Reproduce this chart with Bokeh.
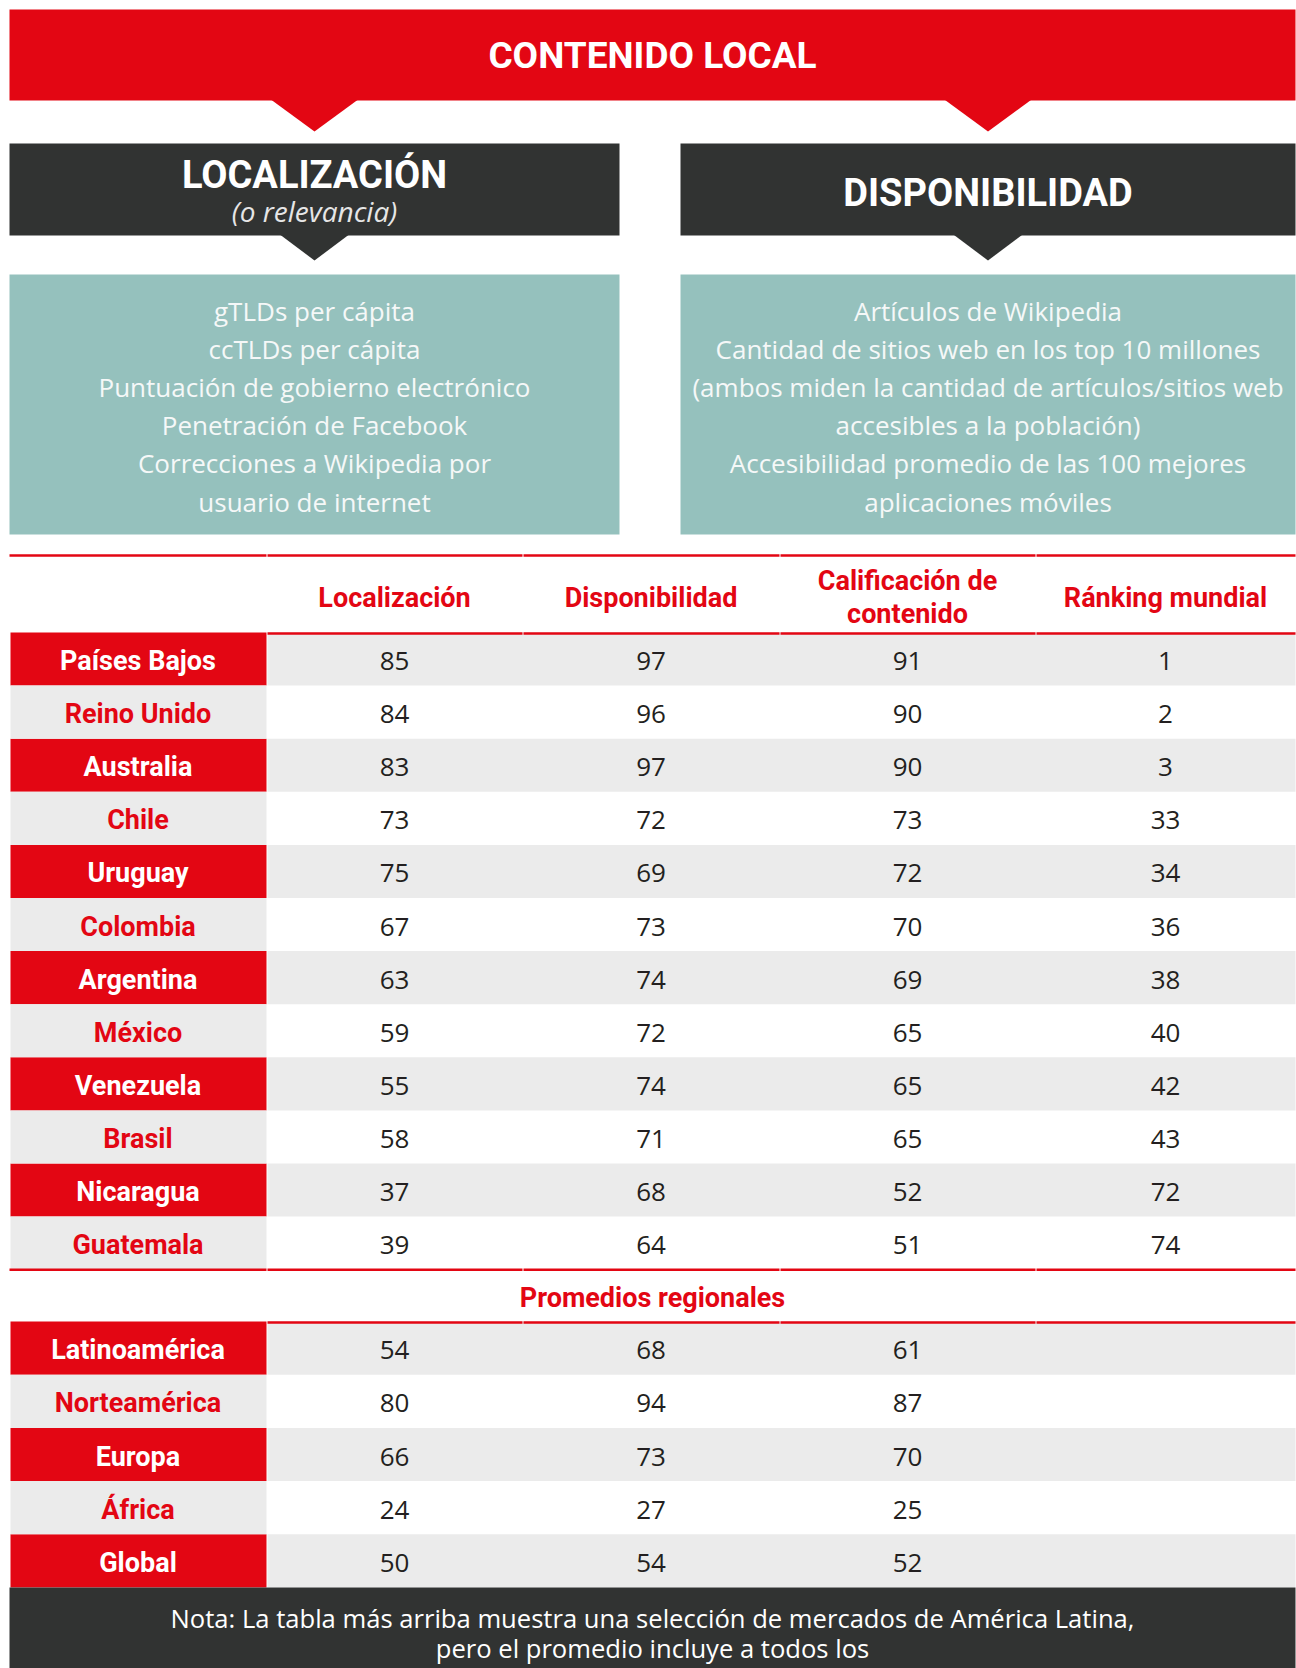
from bokeh.plotting import figure
from bokeh.models import Range1d
from bokeh.embed import file_html
from bokeh.resources import INLINE
from bokeh.core.properties import value

# ---------------- data ----------------
title = "CONTENIDO LOCAL"
left_head = "LOCALIZACIÓN"
left_sub = "(o relevancia)"
right_head = "DISPONIBILIDAD"
left_items = ["gTLDs per cápita", "ccTLDs per cápita", "Puntuación de gobierno electrónico",
              "Penetración de Facebook", "Correcciones a Wikipedia por", "usuario de internet"]
right_items = ["Artículos de Wikipedia", "Cantidad de sitios web en los top 10 millones",
               "(ambos miden la cantidad de artículos/sitios web", "accesibles a la población)",
               "Accesibilidad promedio de las 100 mejores", "aplicaciones móviles"]
col_headers = ["Localización", "Disponibilidad", "Calificación de\ncontenido", "Ránking mundial"]

countries = ["Países Bajos", "Reino Unido", "Australia", "Chile", "Uruguay", "Colombia",
             "Argentina", "México", "Venezuela", "Brasil", "Nicaragua", "Guatemala"]
localizacion = [85, 84, 83, 73, 75, 67, 63, 59, 55, 58, 37, 39]
disponibilidad = [97, 96, 97, 72, 69, 73, 74, 72, 74, 71, 68, 64]
calificacion = [91, 90, 90, 73, 72, 70, 69, 65, 65, 65, 52, 51]
ranking = [1, 2, 3, 33, 34, 36, 38, 40, 42, 43, 72, 74]

section_label = "Promedios regionales"
regions = ["Latinoamérica", "Norteamérica", "Europa", "África", "Global"]
reg_localizacion = [54, 80, 66, 24, 50]
reg_disponibilidad = [68, 94, 73, 27, 54]
reg_calificacion = [61, 87, 70, 25, 52]

footnote = ["Nota: La tabla más arriba muestra una selección de mercados de América Latina,",
            "pero el promedio incluye a todos los"]

# ---------------- styles ----------------
RED = "#e30613"
DARK = "#313332"
TEAL = "#95c1bd"
GRAY = "#ebebeb"
NUM = "#231f20"
BOLD_FONT = value("Roboto")
LIGHT_FONT = value("Open Sans")
BOLD_SIZE = "27px"

W, H = 1296, 1668
p = figure(width=W, height=H, output_backend="svg", toolbar_location=None,
           x_range=Range1d(0, 1296), y_range=Range1d(1668, 0), min_border=0)
p.axis.visible = False
p.grid.visible = False
p.outline_line_color = None
p.background_fill_color = "white"

X0, X1 = 9, 1295
# ---- top banner ----
p.quad(left=[X0], right=[X1], top=[9], bottom=[100], fill_color=RED, line_color=None)
LC, RC = 314, 987.5
for cx in (LC, RC):
    p.patch([cx - 43, cx + 43, cx], [99.5, 99.5, 131], fill_color=RED, line_color=None)
p.text(x=[(X0 + X1) / 2], y=[55], text=[title], text_font=BOLD_FONT, text_font_style="bold",
       text_font_size="37px", text_color="white", text_align="center", text_baseline="middle")

# ---- dark boxes ----
BOX_L = (9, 619)
BOX_R = (680, 1295)
for (l, r) in (BOX_L, BOX_R):
    p.quad(left=[l], right=[r], top=[143], bottom=[235], fill_color=DARK, line_color=None)
for cx in (LC, RC):
    p.patch([cx - 34, cx + 34, cx], [234.5, 234.5, 260], fill_color=DARK, line_color=None)
p.text(x=[LC], y=[174], text=[left_head], text_font=BOLD_FONT, text_font_style="bold",
       text_font_size="38px", text_color="white", text_align="center", text_baseline="middle")
p.text(x=[LC], y=[210], text=[left_sub], text_font=LIGHT_FONT, text_font_style="italic",
       text_font_size="28px", text_color="#e6e6e6", text_align="center", text_baseline="middle")
p.text(x=[RC], y=[192], text=[right_head], text_font=BOLD_FONT, text_font_style="bold",
       text_font_size="38px", text_color="white", text_align="center", text_baseline="middle")

# ---- teal boxes ----
for (l, r) in (BOX_L, BOX_R):
    p.quad(left=[l], right=[r], top=[274], bottom=[534], fill_color=TEAL, line_color=None)
line_ys = [310 + 38.2 * i for i in range(len(left_items))]
p.text(x=[LC] * len(left_items), y=line_ys, text=left_items, text_font=LIGHT_FONT,
       text_font_size="26px", text_color="#f5f8f8", text_align="center", text_baseline="middle")
p.text(x=[RC] * len(right_items), y=line_ys, text=right_items, text_font=LIGHT_FONT,
       text_font_size="26px", text_color="#f5f8f8", text_align="center", text_baseline="middle")

# ---- table ----
col_edges = [9, 266, 522, 779, 1035, 1295]
col_centers = [(col_edges[i] + col_edges[i + 1]) / 2 for i in range(5)]


def hline(y, include_label=True):
    start = 0 if include_label else 1
    ls = [col_edges[i] + (1 if i > 0 else 0) for i in range(start, 5)]
    rs = [col_edges[i + 1] for i in range(start, 5)]
    p.quad(left=ls, right=rs, top=[y - 1.2] * len(ls), bottom=[y + 1.2] * len(ls),
           fill_color=RED, line_color=None)


# header
hline(555)
hdr_x = col_centers[1:]
for x, h in zip(hdr_x, col_headers):
    lines = h.split("\n")
    if len(lines) == 1:
        ys = [597]
    else:
        ys = [580, 613]
    p.text(x=[x] * len(lines), y=ys, text=lines, text_font=BOLD_FONT, text_font_style="bold",
           text_font_size=BOLD_SIZE, text_color=RED, text_align="center", text_baseline="middle")


def table_block(y_start, row_h, labels, cols):
    n = len(labels)
    tops = [y_start + i * row_h for i in range(n)]
    bots = [t + row_h for t in tops]
    odd = [i for i in range(n) if i % 2 == 0]
    even = [i for i in range(n) if i % 2 == 1]
    # label cells
    p.quad(left=[col_edges[0] + 1] * len(odd), right=[col_edges[1]] * len(odd),
           top=[tops[i] for i in odd], bottom=[bots[i] for i in odd], fill_color=RED, line_color=None)
    p.quad(left=[col_edges[0] + 1] * len(even), right=[col_edges[1]] * len(even),
           top=[tops[i] for i in even], bottom=[bots[i] for i in even], fill_color=GRAY, line_color=None)
    # data cells (gray on odd rows)
    p.quad(left=[col_edges[1] + 1] * len(odd), right=[col_edges[5]] * len(odd),
           top=[tops[i] for i in odd], bottom=[bots[i] for i in odd], fill_color=GRAY, line_color=None)
    cy = [t + row_h / 2 + 2 for t in tops]
    p.text(x=[col_centers[0]] * len(odd), y=[cy[i] for i in odd], text=[labels[i] for i in odd],
           text_font=BOLD_FONT, text_font_style="bold", text_font_size=BOLD_SIZE, text_color="white",
           text_align="center", text_baseline="middle")
    p.text(x=[col_centers[0]] * len(even), y=[cy[i] for i in even], text=[labels[i] for i in even],
           text_font=BOLD_FONT, text_font_style="bold", text_font_size=BOLD_SIZE, text_color=RED,
           text_align="center", text_baseline="middle")
    for ci, vals in enumerate(cols):
        p.text(x=[col_centers[ci + 1]] * n, y=cy, text=[str(v) for v in vals],
               text_font=LIGHT_FONT, text_font_size="26px", text_color=NUM,
               text_align="center", text_baseline="middle")
    return bots[-1]


end1 = table_block(632, 53.1, countries, [localizacion, disponibilidad, calificacion, ranking])
hline(633, include_label=False)
hline(end1)
p.text(x=[(X0 + X1) / 2], y=[1297], text=[section_label], text_font=BOLD_FONT,
       text_font_style="bold", text_font_size=BOLD_SIZE, text_color=RED, text_align="center",
       text_baseline="middle")
end2 = table_block(1321, 53.2, regions, [reg_localizacion, reg_disponibilidad, reg_calificacion])
hline(1322, include_label=False)

# ---- footer ----
p.quad(left=[X0], right=[X1], top=[end2], bottom=[1700], fill_color=DARK, line_color=None)
p.text(x=[(X0 + X1) / 2] * 2, y=[1618, 1648], text=footnote, text_font=LIGHT_FONT,
       text_font_size="25.6px", text_color="white", text_align="center", text_baseline="middle")

open("out.html", "w").write(file_html(p, INLINE))
